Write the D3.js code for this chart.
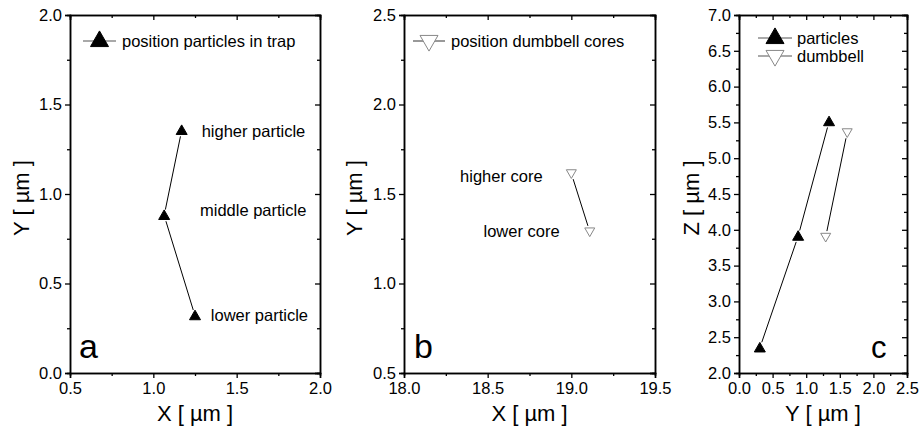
<!DOCTYPE html>
<html>
<head>
<meta charset="utf-8">
<script src="https://cdn.jsdelivr.net/npm/d3@7"></script>
<style>
  body { margin: 0; background: #fff; }
  svg { display: block; }
  text { font-family: "Liberation Sans", Arial, Helvetica, sans-serif; fill: #000; }
</style>
</head>
<body>
<svg id="chart" width="920" height="437"></svg>
<script>
// ---- panel a: particle positions in the trap (X-Y plane)
const trapNames = ["higher particle", "middle particle", "lower particle"];
const trapX = [1.17, 1.065, 1.25];
const trapY = [1.355, 0.88, 0.32];
const trapNoteX = [1.29, 1.28, 1.345];
const trapNoteY = [1.35, 0.91, 0.32];

// ---- panel b: dumbbell core positions (X-Y plane)
const coreNames = ["higher core", "lower core"];
const coreX = [19.0, 19.11];
const coreY = [1.615, 1.29];
const coreNoteX = [18.335, 18.475];
const coreNoteY = [1.60, 1.29];

// ---- panel c: Y-Z plane
const particleY = [0.31, 0.88, 1.34];
const particleZ = [2.35, 3.91, 5.51];
const dumbbellY = [1.29, 1.61];
const dumbbellZ = [3.90, 5.36];

// ---- axis tick values
const ticksAX = [0.5, 1.0, 1.5, 2.0];
const ticksAY = [0.0, 0.5, 1.0, 1.5, 2.0];
const ticksBX = [18.0, 18.5, 19.0, 19.5];
const ticksBY = [0.5, 1.0, 1.5, 2.0, 2.5];
const ticksCX = [0.0, 0.5, 1.0, 1.5, 2.0, 2.5];
const ticksCY = [2.0, 2.5, 3.0, 3.5, 4.0, 4.5, 5.0, 5.5, 6.0, 6.5, 7.0];

const svg = d3.select("#chart");
const TOP = 15, BOTTOM = 373;

function minorOf(ticks) {
  const out = [];
  for (let i = 0; i < ticks.length - 1; i++) out.push((ticks[i] + ticks[i + 1]) / 2);
  return out;
}

// Framed panel with outward ticks on left/bottom and inward ticks on top/right
function panel(opt) {
  const g = svg.append("g");
  const x = d3.scaleLinear().domain(d3.extent(opt.xt)).range([opt.left, opt.right]);
  const y = d3.scaleLinear().domain(d3.extent(opt.yt)).range([BOTTOM, TOP]);
  const fmt = d3.format(".1f");

  const bottom = d3.axisBottom(x).tickValues(opt.xt).tickFormat(fmt).tickSize(5).tickPadding(3);
  const left = d3.axisLeft(y).tickValues(opt.yt).tickFormat(fmt).tickSize(5).tickPadding(3);
  const gb = g.append("g").attr("transform", `translate(0,${BOTTOM})`).call(bottom);
  const gl = g.append("g").attr("transform", `translate(${opt.left},0)`).call(left);
  g.append("g").attr("transform", `translate(0,${BOTTOM})`)
    .call(d3.axisBottom(x).tickValues(minorOf(opt.xt)).tickFormat("").tickSize(3));
  g.append("g").attr("transform", `translate(${opt.left},0)`)
    .call(d3.axisLeft(y).tickValues(minorOf(opt.yt)).tickFormat("").tickSize(3));
  // mirrored axes (inward ticks)
  g.append("g").attr("transform", `translate(0,${TOP})`)
    .call(d3.axisBottom(x).tickValues(opt.xt).tickFormat("").tickSize(5));
  g.append("g").attr("transform", `translate(0,${TOP})`)
    .call(d3.axisBottom(x).tickValues(minorOf(opt.xt)).tickFormat("").tickSize(3));
  g.append("g").attr("transform", `translate(${opt.right},0)`)
    .call(d3.axisLeft(y).tickValues(opt.yt).tickFormat("").tickSize(5));
  g.append("g").attr("transform", `translate(${opt.right},0)`)
    .call(d3.axisLeft(y).tickValues(minorOf(opt.yt)).tickFormat("").tickSize(3));

  g.selectAll(".domain").attr("stroke", "#000").attr("stroke-width", 1.5);
  g.selectAll(".tick line").attr("stroke", "#000").attr("stroke-width", 1.3);
  g.selectAll(".tick text").attr("font-size", 16.5).attr("fill", "#000")
    .attr("font-family", "Liberation Sans, Arial, sans-serif");
  gb.selectAll(".tick text").attr("dy", "0.8em");

  // axis titles
  g.append("text").attr("x", (opt.left + opt.right) / 2 + (opt.xTitleDx || 0)).attr("y", 421)
    .attr("text-anchor", "middle").attr("font-size", 22).text(opt.xTitle);
  g.append("text")
    .attr("transform", `translate(${opt.yTitleX},${(TOP + BOTTOM) / 2 + 4}) rotate(-90)`)
    .attr("text-anchor", "middle").attr("font-size", 22).text(opt.yTitle);

  // panel letter
  g.append("text").attr("x", opt.letterX).attr("y", 358)
    .attr("font-size", opt.letterSize || 34).text(opt.letter);
  return { g, x, y };
}

function upTri(sel, cx, cy, w, fill, stroke) {
  // triangle of width w, pointing up, centred on (cx, cy)
  const h = w * 0.87;
  sel.append("path")
    .attr("d", `M${cx},${cy - h * 0.58}L${cx + w / 2},${cy + h * 0.42}L${cx - w / 2},${cy + h * 0.42}Z`)
    .attr("fill", fill).attr("stroke", stroke).attr("stroke-width", 1);
}
function downTri(sel, cx, cy, w, fill, stroke) {
  const h = w * 0.87;
  sel.append("path")
    .attr("d", `M${cx},${cy + h * 0.58}L${cx + w / 2},${cy - h * 0.42}L${cx - w / 2},${cy - h * 0.42}Z`)
    .attr("fill", fill).attr("stroke", stroke).attr("stroke-width", 1);
}

// connecting line with small gaps at the markers
function gappedLine(sel, xs, ys, x, y, gap, color) {
  for (let i = 0; i < xs.length - 1; i++) {
    const x0 = x(xs[i]), y0 = y(ys[i]), x1 = x(xs[i + 1]), y1 = y(ys[i + 1]);
    const d = Math.hypot(x1 - x0, y1 - y0), ux = (x1 - x0) / d, uy = (y1 - y0) / d;
    sel.append("line")
      .attr("x1", x0 + ux * gap).attr("y1", y0 + uy * gap)
      .attr("x2", x1 - ux * gap).attr("y2", y1 - uy * gap)
      .attr("stroke", color).attr("stroke-width", 1);
  }
}

function legendItem(sel, x0, x1, cy, kind, textX, label) {
  sel.append("line").attr("x1", x0).attr("x2", x1).attr("y1", cy).attr("y2", cy)
    .attr("stroke", "#555").attr("stroke-width", 1.2);
  const cx = (x0 + x1) / 2;
  if (kind === "up") upTri(sel, cx, cy - 1, 18, "#000", "#000");
  else downTri(sel, cx, cy + 1, 18, "#fff", "#888");
  sel.append("text").attr("x", textX).attr("y", cy).attr("dy", "0.35em")
    .attr("font-size", 16.5).text(label);
}

// ---------- panel a
const A = panel({ left: 70, right: 320, xt: ticksAX, yt: ticksAY,
  xTitle: "X [ µm ]", yTitle: "Y  [ µm ]", yTitleX: 29, letter: "a", letterX: 79 });
gappedLine(A.g, trapX, trapY, A.x, A.y, 6, "#000");
trapX.forEach((v, i) => upTri(A.g, A.x(v), A.y(trapY[i]), 11, "#000", "#000"));
trapNames.forEach((n, i) => A.g.append("text")
  .attr("x", A.x(trapNoteX[i])).attr("y", A.y(trapNoteY[i])).attr("dy", "0.35em")
  .attr("font-size", 16.5).text(n));
legendItem(A.g, 83, 116, 41, "up", 122, "position particles in trap");

// ---------- panel b
const B = panel({ left: 404, right: 655, xt: ticksBX, yt: ticksBY,
  xTitle: "X [ µm ]", yTitle: "Y  [ µm ]", yTitleX: 362, letter: "b", letterX: 414 });
gappedLine(B.g, coreX, coreY, B.x, B.y, 6, "#000");
coreX.forEach((v, i) => downTri(B.g, B.x(v), B.y(coreY[i]), 10, "#fff", "#888"));
coreNames.forEach((n, i) => B.g.append("text")
  .attr("x", B.x(coreNoteX[i])).attr("y", B.y(coreNoteY[i])).attr("dy", "0.35em")
  .attr("font-size", 16.5).text(n));
legendItem(B.g, 413, 445, 41, "down", 451, "position dumbbell cores");

// ---------- panel c
const C = panel({ left: 739, right: 907, xt: ticksCX, yt: ticksCY,
  xTitle: "Y [ µm ]", yTitle: "Z  [ µm ]", yTitleX: 699, letter: "c", letterX: 871,
  letterSize: 31 });
gappedLine(C.g, particleY, particleZ, C.x, C.y, 6, "#000");
gappedLine(C.g, dumbbellY, dumbbellZ, C.x, C.y, 6, "#000");
particleY.forEach((v, i) => upTri(C.g, C.x(v), C.y(particleZ[i]), 11, "#000", "#000"));
dumbbellY.forEach((v, i) => downTri(C.g, C.x(v), C.y(dumbbellZ[i]), 10, "#fff", "#888"));
legendItem(C.g, 758, 792, 38, "up", 797, "particles");
legendItem(C.g, 758, 792, 56, "down", 797, "dumbbell");
</script>
</body>
</html>
